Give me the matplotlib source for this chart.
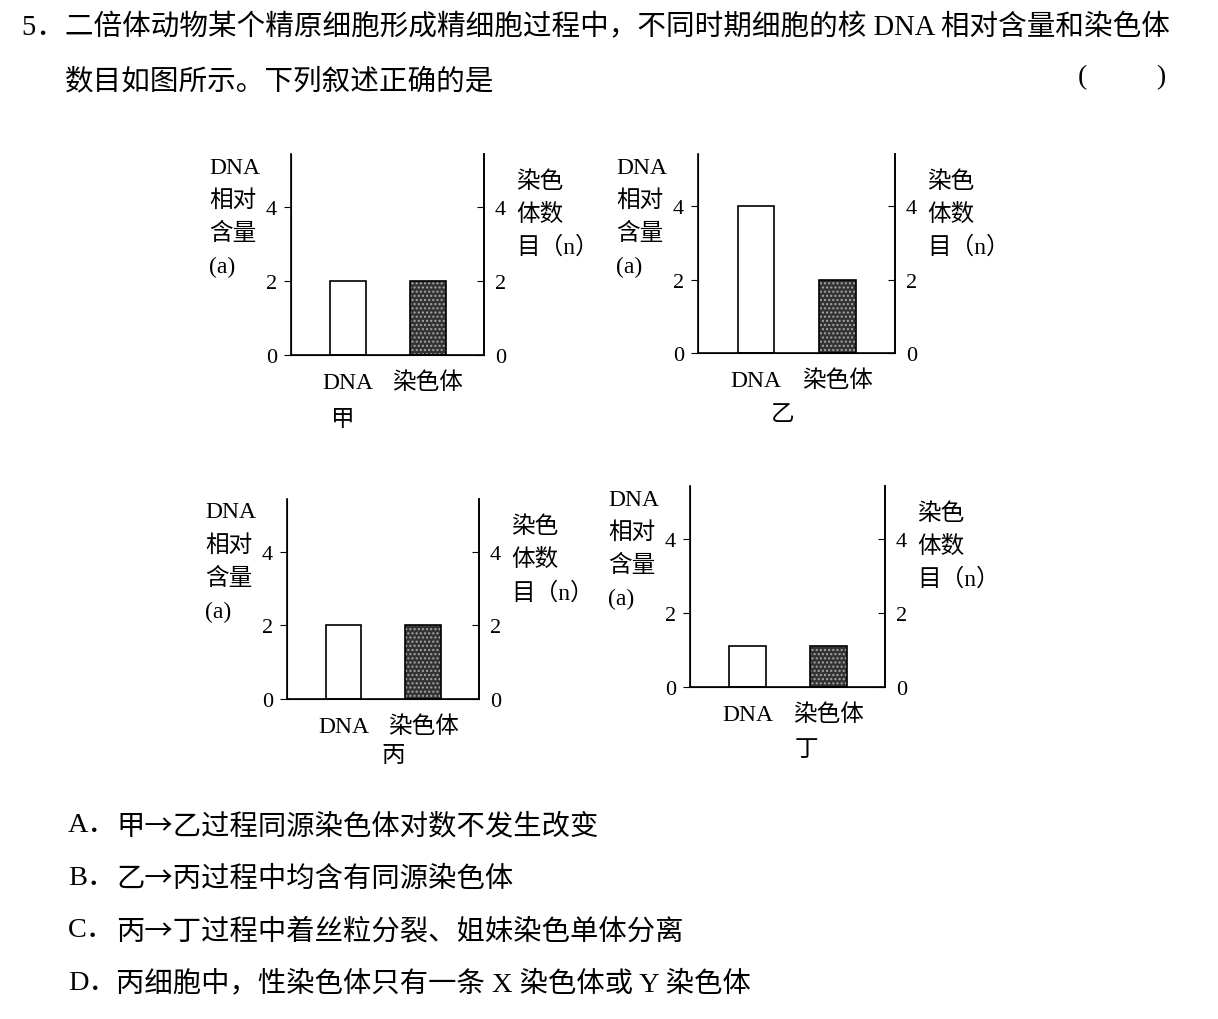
import matplotlib.pyplot as plt
import numpy as np

plt.rcParams['font.family'] = ['Liberation Serif', 'Noto Sans CJK SC']

W, H = 1218, 1020

# data
categories = ["DNA", "染色体"]
panel_names = ["甲", "乙", "丙", "丁"]
dna_values = [2, 4, 2, 1.1]
chrom_values = [2, 2, 2, 1.12]
y_ticks = [0, 2, 4]

question = ["5．二倍体动物某个精原细胞形成精细胞过程中，不同时期细胞的核 DNA 相对含量和染色体",
            "数目如图所示。下列叙述正确的是"]
option_keys = ["A．", "B．", "C．", "D．"]
options = ["甲→乙过程同源染色体对数不发生改变",
           "乙→丙过程中均含有同源染色体",
           "丙→丁过程中着丝粒分裂、姐妹染色单体分离",
           "丙细胞中，性染色体只有一条 X 染色体或 Y 染色体"]

# panel boxes in pixels: left spine, right spine, top, bottom; name x, name y
boxes = [(291, 484, 155, 356, 343, 421),
         (698, 895, 155, 354, 783, 415),
         (287, 479, 500, 700, 393, 757),
         (690, 885, 487, 688, 806, 751)]

fig = plt.figure(figsize=(W / 100, H / 100), dpi=100)


def fx(x):
    return x / W


def fy(y):
    return 1 - y / H


for i, (l, r, t, b, nx, ny) in enumerate(boxes):
    ax = fig.add_axes([fx(l), fy(b), (r - l) / W, (b - t) / H])
    x = np.arange(len(categories))
    ax.bar(x[0], dna_values[i], width=0.45, color="white", edgecolor="black", linewidth=1.2)
    ax.bar(x[1], chrom_values[i], width=0.45, color="#333333", edgecolor="#a8a8a8",
           hatch="....", linewidth=0)
    ax.bar(x[1], chrom_values[i], width=0.45, fill=False, edgecolor="black", linewidth=1.2)
    ax.set_xlim(-0.71, 1.7)
    ax.set_ylim(0, 5.43)
    ax.spines["top"].set_visible(False)
    for s in ["left", "right", "bottom"]:
        ax.spines[s].set_linewidth(1.2)
    ax.set_xticks(x, categories, fontsize=17)
    ax.tick_params(axis="x", length=0, pad=12)
    ax.set_yticks(y_ticks)
    ax.tick_params(axis="y", direction="out", length=5, pad=5, labelsize=16)
    ax2 = ax.twinx()
    ax2.set_ylim(ax.get_ylim())
    ax2.set_yticks(y_ticks)
    ax2.tick_params(axis="y", direction="in", length=5, pad=8, labelsize=16)
    ax2.spines["top"].set_visible(False)
    ax2.spines["right"].set_linewidth(1.2)

    for k, line in enumerate(["DNA", "相对", "含量", "(a)"]):
        fig.text(fx(l - 82), fy(t + [13, 46, 79, 112][k]), line, fontsize=17,
                 ha="left", va="center")
    for k, line in enumerate(["染色", "体数", "目（n）"]):
        fig.text(fx(r + 32), fy(t + [27, 60, 93][k]), line, fontsize=17,
                 ha="left", va="center")
    fig.text(fx(nx), fy(ny), panel_names[i], fontsize=17, ha="center", va="center")

fig.text(fx(22), fy(28), question[0], fontsize=20.6, ha="left", va="center")
fig.text(fx(65), fy(82), question[1], fontsize=20.6, ha="left", va="center")
fig.text(fx(1078), fy(78), "(", fontsize=20, ha="left", va="center")
fig.text(fx(1165), fy(78), ")", fontsize=20, ha="right", va="center")

for k, opt in enumerate(options):
    yk = fy(826 + 52.5 * k)
    fig.text(fx(68), yk, option_keys[k], fontsize=20.4, ha="left", va="center")
    fam = ["Noto Sans CJK SC", "Liberation Serif"] if "→" in opt else None
    fig.text(fx(116), yk, opt, fontsize=20.4, ha="left", va="center", family=fam)

fig.savefig("out.png", dpi=100, facecolor="white")
